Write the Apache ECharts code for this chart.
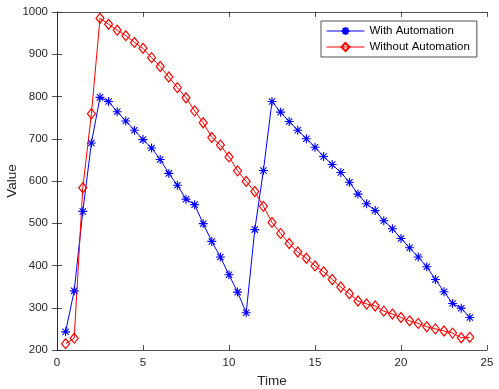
<!DOCTYPE html>
<html>
<head>
<meta charset="utf-8">
<script src="https://cdn.jsdelivr.net/npm/echarts@6/dist/echarts.min.js"></script>
<style>
  html, body { margin: 0; padding: 0; background: #fff; }
  #chart { width: 499px; height: 389px; }
</style>
</head>
<body>
<div id="chart"></div>
<script>
// time steps, 0.5 to 24
var times = [0.5, 1, 1.5, 2, 2.5, 3, 3.5, 4, 4.5, 5, 5.5, 6, 6.5, 7, 7.5, 8,
  8.5, 9, 9.5, 10, 10.5, 11, 11.5, 12, 12.5, 13, 13.5, 14, 14.5, 15, 15.5, 16,
  16.5, 17, 17.5, 18, 18.5, 19, 19.5, 20, 20.5, 21, 21.5, 22, 22.5, 23, 23.5, 24];

var withAuto = [243, 340, 528, 690, 798, 788, 764, 742, 720, 698, 678, 651,
  618, 590, 557, 544, 499, 457, 420, 378, 337, 288, 485, 625,
  788, 763, 741, 720, 700, 680, 658, 639, 620, 597, 569, 546,
  530, 506, 487, 464, 442, 420, 397, 367, 338, 310, 299, 277];

var withoutAuto = [215, 228, 584, 759, 985, 971, 957, 944, 928, 914, 892, 871,
  846, 821, 797, 766, 738, 703, 685, 657, 624, 599, 575, 540,
  502, 476, 452, 432, 417, 399, 385, 367, 349, 333, 316, 309,
  304, 292, 285, 277, 269, 263, 255, 250, 245, 240, 229, 230];

var seriesNames = ['With Automation', 'Without Automation'];

function pairs(xs, ys) {
  return xs.map(function (x, i) { return [x, ys[i]]; });
}

var font = '"Liberation Sans", Arial, Helvetica, sans-serif';
var axisCol = '#262626';
var asterisk = 'path://M0,-10L0,10M-10,0L10,0M-7,-7L7,7M-7,7L7,-7';

var myChart = echarts.init(document.getElementById('chart'));

var tickStyle = { show: true, inside: true, length: 5, lineStyle: { color: axisCol, width: 0.8 } };
var lineStyle = { show: true, lineStyle: { color: axisCol, width: 0.8 } };
var plain = function (v) { return String(v); };

option = {
  animation: false,
  backgroundColor: '#fff',
  grid: { left: 57, right: 12, top: 12, bottom: 39, containLabel: false, outerBoundsMode: 'none' },
  legend: {
    orient: 'vertical',
    left: 321,
    top: 21,
    padding: [4, 7, 4, 5],
    itemWidth: 38,
    itemHeight: 10,
    itemGap: 4,
    borderColor: axisCol,
    borderWidth: 0.8,
    backgroundColor: '#fff',
    lineStyle: { width: 1 },
    textStyle: { fontFamily: font, fontSize: 11.5, color: '#000' },
    data: seriesNames
  },
  xAxis: [{
    type: 'value',
    min: 0, max: 25, interval: 5,
    name: 'Time',
    nameLocation: 'middle',
    nameGap: 24,
    nameMoveOverlap: false,
    nameTextStyle: { fontFamily: font, fontSize: 13.5, color: axisCol },
    axisLine: lineStyle,
    axisTick: tickStyle,
    axisLabel: { fontFamily: font, fontSize: 11.5, color: axisCol, margin: 7, formatter: plain },
    splitLine: { show: false }
  }, {
    type: 'value', position: 'top',
    min: 0, max: 25, interval: 5,
    axisLine: lineStyle,
    axisTick: tickStyle,
    axisLabel: { show: false },
    splitLine: { show: false }
  }],
  yAxis: [{
    type: 'value',
    min: 200, max: 1000, interval: 100,
    name: 'Value',
    nameLocation: 'middle',
    nameGap: 38,
    nameRotate: 90,
    nameMoveOverlap: false,
    nameTextStyle: { fontFamily: font, fontSize: 13.5, color: axisCol },
    axisLine: lineStyle,
    axisTick: tickStyle,
    axisLabel: { fontFamily: font, fontSize: 11.5, color: axisCol, margin: 9, formatter: plain },
    splitLine: { show: false }
  }, {
    type: 'value', position: 'right',
    min: 200, max: 1000, interval: 100,
    axisLine: lineStyle,
    axisTick: tickStyle,
    axisLabel: { show: false },
    splitLine: { show: false }
  }],
  series: [{
    name: seriesNames[0],
    type: 'line',
    data: pairs(times, withAuto),
    symbol: asterisk,
    symbolSize: 9,
    showAllSymbol: true,
    color: '#0000ff',
    lineStyle: { color: '#0000ff', width: 1 },
    itemStyle: { color: '#0000ff', borderColor: '#0000ff', borderWidth: 1.1 }
  }, {
    name: seriesNames[1],
    type: 'line',
    data: pairs(times, withoutAuto),
    symbol: 'diamond',
    symbolSize: [8, 10],
    showAllSymbol: true,
    color: '#ff0000',
    lineStyle: { color: '#ff0000', width: 1 },
    itemStyle: { color: 'rgba(255,255,255,0)', borderColor: '#ff0000', borderWidth: 1.2 }
  }]
};

myChart.setOption(option);
</script>
</body>
</html>
